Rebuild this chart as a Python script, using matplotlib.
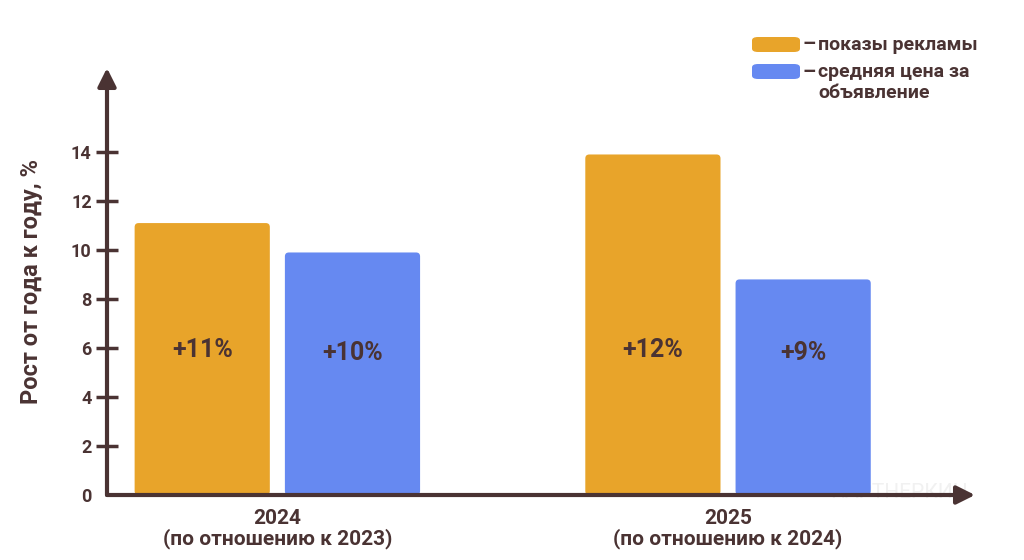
import matplotlib.pyplot as plt
from matplotlib.patches import FancyBboxPatch

years = ["2024\n(по отношению к 2023)", "2025\n(по отношению к 2024)"]
impressions = [11.1, 13.9]
avg_price = [9.9, 8.8]
impressions_labels = ["+11%", "+12%"]
price_labels = ["+10%", "+9%"]
series_names = ["показы рекламы", "средняя цена за\nобъявление"]
y_ticks = [0, 2, 4, 6, 8, 10, 12, 14]

orange = "#E8A42A"
blue = "#6689F1"
dark = "#4A3333"

plt.rcParams['font.family'] = ['Roboto', 'DejaVu Sans']

fig = plt.figure(figsize=(10.24, 5.6), dpi=100)
# axes placed in pixel terms: x 107..975, y 495..68
ax = fig.add_axes([107 / 1024, 65 / 560, 868 / 1024, 427 / 560])
ax.patch.set_visible(False)

x = [0, 1]
width = 0.3
offset = 0.1667
ax.set_xlim(-0.378, 1.548)
ax.set_ylim(0, 17.43)

# rounded bars
px_x = 868 / (1.548 + 0.378)
px_y = 427 / 17.43
r = 4 / px_x
for xs, vals, col in [([v - offset for v in x], impressions, orange),
                      ([v + offset for v in x], avg_price, blue)]:
    for xc, h in zip(xs, vals):
        p = FancyBboxPatch((xc - width / 2, 0), width, h,
                           boxstyle=f"round,pad=0,rounding_size={r}",
                           mutation_aspect=px_x / px_y,
                           facecolor=col, edgecolor="none", zorder=2)
        ax.add_patch(p)

for xc, lab in zip(x, impressions_labels):
    ax.text(xc - offset, 5.9, lab, ha="center", va="center", fontsize=18,
            fontweight="bold", color=dark, zorder=3)
for xc, lab in zip(x, price_labels):
    ax.text(xc + offset, 5.8, lab, ha="center", va="center", fontsize=18,
            fontweight="bold", color=dark, zorder=3)

# axes with arrows
for s in ax.spines.values():
    s.set_visible(False)
ax.annotate("", xy=(1.548, 0), xytext=(-0.378, 0),
            arrowprops=dict(arrowstyle="-|>,head_length=1.1,head_width=0.55",
                            color=dark, lw=3, shrinkA=0, shrinkB=0), zorder=4,
            annotation_clip=False)
ax.annotate("", xy=(-0.378, 17.43), xytext=(-0.378, 0),
            arrowprops=dict(arrowstyle="-|>,head_length=1.1,head_width=0.55",
                            color=dark, lw=3, shrinkA=0, shrinkB=0), zorder=4,
            annotation_clip=False)

ax.set_yticks(y_ticks)
ax.set_yticklabels([str(t) for t in y_ticks], fontsize=13, fontweight="bold", color=dark)
ax.tick_params(axis="y", direction="inout", length=16, width=2.5, color=dark, pad=3)
ax.yaxis.get_major_ticks()[0].tick1line.set_visible(False)
ax.set_xticks(x)
ax.set_xticklabels(years, fontsize=15, fontweight="bold", color=dark, linespacing=1.0)
ax.tick_params(axis="x", length=0, pad=10)
ax.set_ylabel("Рост от года к году, %", fontsize=17, fontweight="bold", color=dark, labelpad=20)

# legend
fig.patches.append(FancyBboxPatch((752 / 1024, 1 - 52 / 560), 48 / 1024, 15 / 560,
                                  boxstyle="round,pad=0,rounding_size=0.006",
                                  transform=fig.transFigure, facecolor=orange,
                                  edgecolor="none"))
fig.patches.append(FancyBboxPatch((752 / 1024, 1 - 79 / 560), 48 / 1024, 15 / 560,
                                  boxstyle="round,pad=0,rounding_size=0.006",
                                  transform=fig.transFigure, facecolor=blue,
                                  edgecolor="none"))
fig.text(803 / 1024, 1 - 45 / 560, "–", fontsize=15, fontweight="bold", color=dark, va="center")
fig.text(803 / 1024, 1 - 72 / 560, "–", fontsize=15, fontweight="bold", color=dark, va="center")
fig.text(818 / 1024, 1 - 45 / 560, series_names[0], fontsize=14, fontweight="bold",
         color=dark, va="center")
fig.text(818 / 1024, 1 - 63 / 560, series_names[1], fontsize=14, fontweight="bold",
         color=dark, va="top", linespacing=1.25)

# faint watermark behind the axes
fig.text(830 / 1024, 1 - 493 / 560, "ПАРТНЕРКИН", fontsize=15, color="#f1f1f1",
         va="center", zorder=-1)

fig.savefig("out.png", dpi=100)
